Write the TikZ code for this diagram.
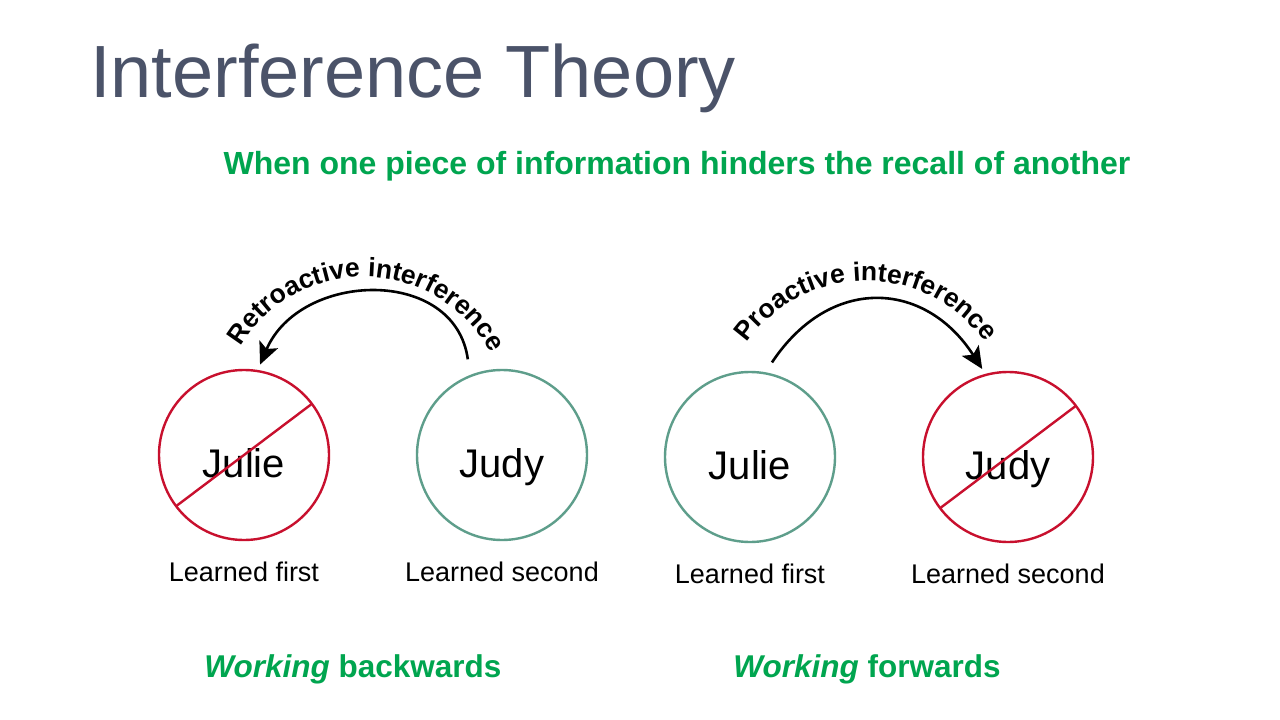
\documentclass[tikz,border=0pt]{standalone}
\usepackage{fontspec}
\setmainfont{Liberation Sans}
\usetikzlibrary{arrows.meta,positioning,decorations.text}
\definecolor{titlegray}{HTML}{4B5369}
\definecolor{leafgreen}{HTML}{00A54F}
\definecolor{lostred}{HTML}{C8102E}
\definecolor{keptteal}{HTML}{5E9E8B}
\tikzset{
  memory/.style={circle, draw, line width=2.4pt, minimum size=170pt,
    inner sep=0pt, outer sep=0pt, text height=44pt, text depth=0pt,
    font=\fontsize{40}{46}\selectfont},
  lost/.style={memory, draw=lostred},
  kept/.style={memory, draw=keptteal},
  crossout/.style={draw=lostred, line width=2.4pt},
  order/.style={inner sep=0pt, font=\fontsize{27}{32}\selectfont},
  bigarrow/.style={-{Stealth[length=22pt,width=20pt,inset=5pt]}, line width=2.6pt},
  caption/.style={text=leafgreen, font=\bfseries\fontsize{31.5}{38}\selectfont}
}

\begin{document}
\begin{tikzpicture}[x=1pt,y=-1pt]
  \fill[white] (0,0) rectangle (1280,720);
  \useasboundingbox (0,0) rectangle (1280,720);

  \node[anchor=base west, inner sep=0pt, text=titlegray,
    font=\fontsize{74}{80}\selectfont] (title) at (90,97) {Interference Theory};
  \node[text=leafgreen, font=\bfseries\fontsize{32}{38}\selectfont]
    (subtitle) at (677,166) {When one piece of information hinders the recall of another};

  % backwards
  \node[lost] (julieA) at (244,455) {Julie};
  \node[kept] (judyA) at (502,455) {Judy};
  \draw[crossout] (julieA.217) -- (julieA.37);
  \node[order, below=22pt of julieA] (firstA) {Learned first};
  \node[order, below=22pt of judyA] (secondA) {Learned second};
  \draw[bigarrow, shorten <=17pt, shorten >=7pt] (judyA.112)
    .. controls (455,266) and (300,271) .. (julieA.81);
  \path[decorate, decoration={text along path, text align=center,
    text={|\bfseries\fontsize{26.5}{32}\selectfont|Retroactive interference}}]
    (364,421) ++(-152:144) arc[start angle=-152, end angle=-25, radius=144];

  % forwards
  \node[kept] (julieB) at (750,457) {Julie};
  \node[lost] (judyB) at (1008,457) {Judy};
  \draw[crossout] (judyB.217) -- (judyB.37);
  \node[order, below=22pt of julieB] (firstB) {Learned first};
  \node[order, below=22pt of judyB] (secondB) {Learned second};
  \draw[bigarrow, shorten <=13pt, shorten >=7pt] (julieB.80)
    .. controls (830,275) and (925,280) .. (judyB.105);
  \path[decorate, decoration={text along path, text align=center,
    text={|\bfseries\fontsize{26.5}{32}\selectfont|Proactive interference}}]
    (866,427) ++(-148:146) arc[start angle=-148, end angle=-32, radius=146];

  \node[caption] (backA) at (353,669) {\textit{Working} backwards};
  \node[caption] (forwardB) at (867,669) {\textit{Working} forwards};
\end{tikzpicture}
\end{document}
